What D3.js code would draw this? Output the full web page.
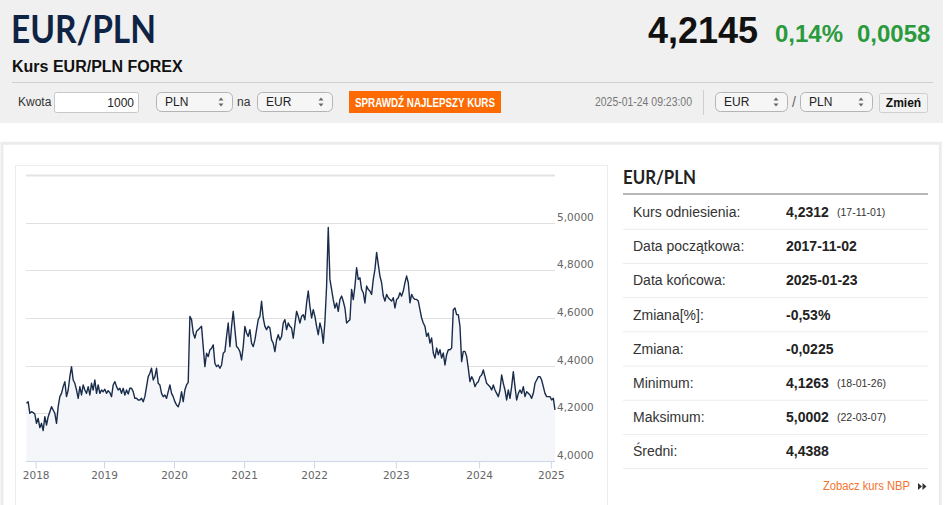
<!DOCTYPE html>
<html>
<head>
<meta charset="utf-8">
<script src="https://cdn.jsdelivr.net/npm/d3@7"></script>
<style>
  body { margin: 0; background: #fff; }
  svg { display: block; }
  text { font-family: "Liberation Sans", Arial, sans-serif; }
</style>
</head>
<body>
<svg id="page" width="948" height="505"></svg>
<script>
/* EUR/PLN FOREX page with the rate chart */

// rate values, one array per calendar year
var v2017 = [4.242, 4.249, 4.200, 4.207, 4.203, 4.197];
var v2018 = [4.158, 4.179, 4.140, 4.158, 4.128, 4.186, 4.151, 4.186, 4.207, 4.228,
             4.214, 4.200, 4.158, 4.228, 4.270, 4.284, 4.312, 4.333, 4.270, 4.298,
             4.354, 4.396, 4.340, 4.326, 4.298, 4.263, 4.312, 4.277, 4.319, 4.298,
             4.284, 4.312, 4.277, 4.326, 4.298, 4.340, 4.284, 4.319, 4.284, 4.298, 4.291];
var v2019 = [4.301, 4.284, 4.295, 4.287, 4.270, 4.319, 4.333, 4.312, 4.298, 4.305,
             4.284, 4.305, 4.277, 4.298, 4.281, 4.305, 4.305, 4.291, 4.263, 4.263,
             4.256, 4.256, 4.263, 4.249, 4.270, 4.312, 4.354, 4.368, 4.389, 4.340,
             4.354, 4.389, 4.326, 4.319, 4.284, 4.270, 4.277, 4.263, 4.291, 4.319, 4.284, 4.270];
var v2020 = [4.249, 4.235, 4.228, 4.249, 4.291, 4.249, 4.298, 4.319, 4.330, 4.607,
             4.593, 4.537, 4.516, 4.544, 4.551, 4.558, 4.565, 4.480, 4.396, 4.452,
             4.438, 4.466, 4.473, 4.487, 4.410, 4.396, 4.403, 4.389, 4.403, 4.452,
             4.459, 4.523, 4.579, 4.480, 4.565, 4.628, 4.551, 4.480, 4.473, 4.459, 4.424, 4.480];
var v2021 = [4.565, 4.537, 4.523, 4.551, 4.494, 4.480, 4.508, 4.551, 4.593, 4.607,
             4.670, 4.600, 4.565, 4.551, 4.565, 4.558, 4.508, 4.494, 4.459, 4.508,
             4.530, 4.508, 4.523, 4.579, 4.593, 4.551, 4.579, 4.565, 4.558, 4.515,
             4.572, 4.628, 4.607, 4.579, 4.607, 4.614, 4.593, 4.663, 4.713, 4.649, 4.600, 4.635];
var v2022 = [4.607, 4.565, 4.530, 4.579, 4.551, 4.494, 4.586, 4.734, 4.980, 4.762,
             4.720, 4.677, 4.642, 4.663, 4.628, 4.677, 4.692, 4.670, 4.642, 4.579,
             4.586, 4.593, 4.720, 4.677, 4.734, 4.811, 4.762, 4.769, 4.720, 4.706,
             4.663, 4.734, 4.720, 4.713, 4.699, 4.762, 4.804, 4.875, 4.825, 4.776,
             4.748, 4.692, 4.671, 4.699, 4.685, 4.678, 4.671, 4.685, 4.642];
var v2023 = [4.678, 4.685, 4.706, 4.692, 4.713, 4.748, 4.776, 4.748, 4.664, 4.699,
             4.685, 4.678, 4.678, 4.671, 4.635, 4.600, 4.579, 4.565, 4.523, 4.537,
             4.495, 4.516, 4.453, 4.432, 4.474, 4.446, 4.467, 4.432, 4.453, 4.403,
             4.446, 4.467, 4.467, 4.474, 4.635, 4.642, 4.614, 4.614, 4.565, 4.417,
             4.460, 4.460, 4.439, 4.389, 4.333, 4.354, 4.340, 4.312, 4.326, 4.333];
var v2024 = [4.354, 4.361, 4.382, 4.354, 4.326, 4.319, 4.312, 4.298, 4.319, 4.298,
             4.284, 4.270, 4.298, 4.361, 4.326, 4.298, 4.256, 4.298, 4.263, 4.312,
             4.375, 4.312, 4.256, 4.284, 4.298, 4.284, 4.312, 4.270, 4.291, 4.284,
             4.277, 4.263, 4.284, 4.326, 4.340, 4.354, 4.354, 4.340, 4.312, 4.284,
             4.270, 4.270, 4.270];
var v2025 = [4.256, 4.263, 4.2145];

var yearLabels = ["2018", "2019", "2020", "2021", "2022", "2023", "2024", "2025"];
var yTicks = [4.0, 4.2, 4.4, 4.6, 4.8, 5.0];
var yTop = 5.2;

// side table
var statLabels = ["Kurs odniesienia:", "Data początkowa:", "Data końcowa:", "Zmiana[%]:",
                  "Zmiana:", "Minimum:", "Maksimum:", "Średni:"];
var statValues = ["4,2312", "2017-11-02", "2025-01-23", "-0,53%", "-0,0225", "4,1263", "5,0002", "4,4388"];
var statDates = ["(17-11-01)", "", "", "", "", "(18-01-26)", "(22-03-07)", ""];

// header quote
var quote = { last: "4,2145", pct: "0,14%", chg: "0,0058", time: "2025-01-24 09:23:00" };

var svg = d3.select("#page");
var dark = "#222";

// ---------- header ----------
svg.append("rect").attr("x", 0).attr("y", 0).attr("width", 943).attr("height", 123).attr("fill", "#f0f0f0");

svg.append("text").attr("x", 11).attr("y", 43)
    .style("font-family", "Lato, 'Open Sans', sans-serif").style("font-weight", 700)
    .style("font-size", "38px").attr("fill", "#0f2344")
    .attr("textLength", 145).attr("lengthAdjust", "spacingAndGlyphs")
    .text("EUR/PLN");

svg.append("text").attr("x", 12).attr("y", 72)
    .style("font-weight", "bold").style("font-size", "16px").attr("fill", "#111")
    .text("Kurs EUR/PLN FOREX");

svg.append("text").attr("x", 648).attr("y", 43)
    .style("font-weight", "bold").style("font-size", "36px").attr("fill", "#111").text(quote.last);
svg.append("text").attr("x", 775).attr("y", 42)
    .style("font-weight", "bold").style("font-size", "24px").attr("fill", "#2a9a3c").text(quote.pct);
svg.append("text").attr("x", 857).attr("y", 42)
    .style("font-weight", "bold").style("font-size", "24px").attr("fill", "#2a9a3c").text(quote.chg);

svg.append("line").attr("x1", 12).attr("x2", 933).attr("y1", 82.5).attr("y2", 82.5)
    .attr("stroke", "#d0d0d0");

// controls row
svg.append("text").attr("x", 18).attr("y", 106).style("font-size", "12px").attr("fill", "#333").text("Kwota");
svg.append("rect").attr("x", 54.5).attr("y", 92.5).attr("width", 84).attr("height", 20).attr("rx", 2)
    .attr("fill", "#fff").attr("stroke", "#c8c8c8");
svg.append("text").attr("x", 134).attr("y", 106.5).attr("text-anchor", "end")
    .style("font-size", "12px").attr("fill", "#222").text("1000");

function selectBox(x, w, label) {
  var g = svg.append("g");
  g.append("rect").attr("x", x + 0.5).attr("y", 92.5).attr("width", w).attr("height", 19).attr("rx", 5)
      .attr("fill", "#f6f6f6").attr("stroke", "#b4b4b4");
  g.append("text").attr("x", x + 9).attr("y", 106).style("font-size", "12px").attr("fill", "#222").text(label);
  var ax = x + w - 11;
  g.append("path").attr("d", "M" + (ax - 2.5) + ",100.5L" + (ax + 2.5) + ",100.5L" + ax + ",97.5Z").attr("fill", "#666");
  g.append("path").attr("d", "M" + (ax - 2.5) + ",103.5L" + (ax + 2.5) + ",103.5L" + ax + ",106.5Z").attr("fill", "#666");
}
selectBox(156, 76, "PLN");
svg.append("text").attr("x", 237).attr("y", 106).style("font-size", "12px").attr("fill", "#333").text("na");
selectBox(257, 75, "EUR");

svg.append("rect").attr("x", 349).attr("y", 91).attr("width", 152).attr("height", 22).attr("fill", "#fd6a02");
svg.append("text").attr("x", 355).attr("y", 106.5).style("font-weight", "bold").style("font-size", "12px")
    .attr("fill", "#fff").attr("textLength", 140).attr("lengthAdjust", "spacingAndGlyphs")
    .text("SPRAWDŹ NAJLEPSZY KURS");

svg.append("text").attr("x", 595).attr("y", 106).style("font-size", "12px").attr("fill", "#777")
    .attr("textLength", 97).attr("lengthAdjust", "spacingAndGlyphs").text(quote.time);
svg.append("line").attr("x1", 703.5).attr("x2", 703.5).attr("y1", 90).attr("y2", 115).attr("stroke", "#cfcfcf");

selectBox(715, 72, "EUR");
svg.append("text").attr("x", 792).attr("y", 107).style("font-size", "14px").attr("fill", "#666").text("/");
selectBox(800, 72, "PLN");

svg.append("rect").attr("x", 879.5).attr("y", 93.5).attr("width", 48).attr("height", 19).attr("rx", 2)
    .attr("fill", "#f2f2f2").attr("stroke", "#cfcfcf");
svg.append("text").attr("x", 903.5).attr("y", 107).attr("text-anchor", "middle")
    .style("font-weight", "bold").style("font-size", "12px").attr("fill", "#111").text("Zmień");

// ---------- panels ----------
svg.append("rect").attr("x", 2).attr("y", 143.3).attr("width", 938.3).attr("height", 400)
    .attr("fill", "#fff").attr("stroke", "#ececec").attr("stroke-width", 3);
svg.append("rect").attr("x", 15.5).attr("y", 165.5).attr("width", 592).attr("height", 400)
    .attr("fill", "#fff").attr("stroke", "#ececec");

// ---------- chart ----------
var segments = [v2017, v2018, v2019, v2020, v2021, v2022, v2023, v2024, v2025];
var rate = [];
var yearStart = [];
segments.forEach(function(s, i) {
  if (i > 0) yearStart.push(rate.length - 0.5);
  s.forEach(function(v) { rate.push(v); });
});

var x = d3.scaleLinear().domain([0, rate.length - 1]).range([26.5, 555]);
var y = d3.scaleLinear().domain([yTicks[0], yTop]).range([461, 175]);

var chart = svg.append("g");

chart.selectAll("line.grid")
    .data(yTicks.slice(1).concat([yTop]))
    .enter()
    .append("line")
    .attr("class", "grid")
    .attr("x1", 26).attr("x2", 555)
    .attr("y1", function(d) { return Math.round(y(d)) + 0.5; })
    .attr("y2", function(d) { return Math.round(y(d)) + 0.5; })
    .attr("stroke", function(d) { return d == yTop ? "#e3e3e3" : "#e0e0e0"; })
    .attr("stroke-width", function(d) { return d == yTop ? 2 : 1; });

var area = d3.area()
    .x(function(d, i) { return x(i); })
    .y0(y(yTicks[0]))
    .y1(function(d) { return y(d); });
var line = d3.line()
    .x(function(d, i) { return x(i); })
    .y(function(d) { return y(d); });

chart.append("path").datum(rate).attr("d", area).attr("fill", "#f4f6f9");
chart.append("path").datum(rate).attr("d", line)
    .attr("fill", "none").attr("stroke", "#1a2c4b").attr("stroke-width", 1.4)
    .attr("stroke-linejoin", "round");

chart.selectAll("text.ylab")
    .data(yTicks)
    .enter()
    .append("text")
    .attr("class", "ylab")
    .attr("x", 557)
    .attr("y", function(d) { return y(d) - 2; })
    .style("font-family", "'DejaVu Sans', sans-serif")
    .style("font-size", "10.5px")
    .attr("fill", "#666")
    .text(function(d) { return d3.format(".4f")(d).replace(".", ","); });

var xAxis = d3.axisBottom(x)
    .tickValues(yearStart)
    .tickFormat(function(d, i) { return yearLabels[i]; })
    .tickSizeInner(7)
    .tickSizeOuter(0)
    .tickPadding(3);

var axisG = chart.append("g").attr("transform", "translate(0," + (y(yTicks[0]) + 0.5) + ")").call(xAxis);
axisG.select(".domain").attr("stroke", "#ccd6eb").attr("d", "M26,0H555");
axisG.selectAll(".tick line").attr("stroke", "#ccd6eb");
axisG.selectAll(".tick text")
    .style("font-family", "'DejaVu Sans', sans-serif")
    .style("font-size", "10.5px")
    .attr("fill", "#666");

// ---------- side table ----------
var side = svg.append("g");
side.append("text").attr("x", 623).attr("y", 183.5)
    .style("font-family", "Lato, 'Open Sans', sans-serif").style("font-weight", 700)
    .style("font-size", "18px").attr("fill", "#222")
    .attr("textLength", 73).attr("lengthAdjust", "spacingAndGlyphs").text("EUR/PLN");
side.append("line").attr("x1", 623).attr("x2", 928).attr("y1", 194).attr("y2", 194)
    .attr("stroke", "#b8b8b8").attr("stroke-width", 2);

var rowY = d3.scaleLinear().domain([0, 1]).range([212, 246.2]);

var rows = side.selectAll("g.row")
    .data(statLabels)
    .enter()
    .append("g")
    .attr("class", "row")
    .attr("transform", function(d, i) { return "translate(0," + rowY(i) + ")"; });

rows.append("line").attr("x1", 623).attr("x2", 928).attr("y1", 17.3).attr("y2", 17.3)
    .attr("stroke", "#ececec");
rows.append("text").attr("x", 633).attr("y", 5)
    .style("font-size", "14px").attr("fill", "#333").text(function(d) { return d; });
rows.append("text").attr("x", 786).attr("y", 5)
    .style("font-size", "14px").style("font-weight", "bold").attr("fill", dark)
    .text(function(d, i) { return statValues[i]; });
rows.append("text").attr("x", 837).attr("y", 4)
    .style("font-size", "10.5px").attr("fill", "#333")
    .text(function(d, i) { return statDates[i]; });

side.append("text").attr("x", 823).attr("y", 490)
    .style("font-size", "12px").attr("fill", "#f2732d")
    .attr("textLength", 87).attr("lengthAdjust", "spacingAndGlyphs").text("Zobacz kurs NBP");
side.append("path").attr("d", "M918,483L922,486.5L918,490Z M922.5,483L926.5,486.5L922.5,490Z").attr("fill", "#333");
</script>
</body>
</html>
